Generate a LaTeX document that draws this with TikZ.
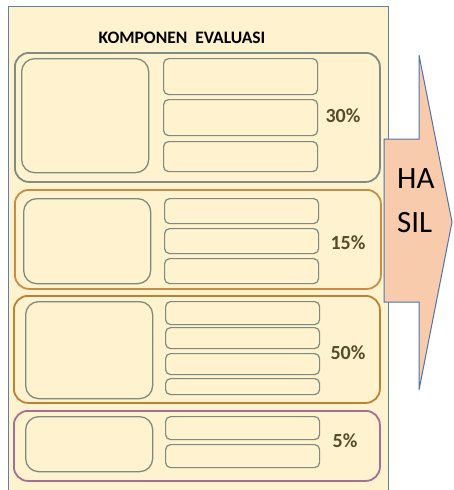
\documentclass[tikz,border=0pt]{standalone}
\usepackage{fontspec}
\setmainfont{Carlito}
\usetikzlibrary{positioning}

\definecolor{panelfill}{RGB}{255,242,206}
\definecolor{panelline}{RGB}{92,128,170}
\definecolor{grpgray}{RGB}{128,140,130}
\definecolor{grporange}{RGB}{200,140,70}
\definecolor{grpbrown}{RGB}{185,130,55}
\definecolor{grppurple}{RGB}{165,110,150}
\definecolor{itemgray}{RGB}{125,138,128}
\definecolor{pcttext}{RGB}{88,74,42}
\definecolor{arrowfill}{RGB}{248,203,173}
\definecolor{arrowline}{RGB}{80,115,170}

\begin{document}
\begin{tikzpicture}[x=1pt, y=-1pt,
    panel/.style={draw=panelline, fill=panelfill, line width=1pt, anchor=north west, inner sep=0pt},
    grpbox/.style={draw=#1, line width=1.8pt, rounded corners=14pt, anchor=north west, inner sep=0pt},
    leftbox/.style={draw=itemgray, line width=1.3pt, rounded corners=13pt, anchor=north west, inner sep=0pt, minimum width=127},
    itembox/.style={draw=itemgray, line width=1.2pt, rounded corners=5pt, anchor=north west, inner sep=0pt, minimum width=154},
    pct/.style={font=\bfseries\fontsize{20}{23}\selectfont, text=pcttext, inner sep=0pt},
  ]
  \useasboundingbox (0,0) rectangle (453,490);

  % background sheet
  \node[panel, minimum width=380, minimum height=500] (panel) at (8,6) {};
  \node[font=\bfseries\fontsize{17.5}{20}\selectfont, inner sep=0pt] (title) at (182,38) {KOMPONEN\ \ EVALUASI};

  % component 1
  \node[grpbox=grpgray, minimum width=365, minimum height=129] (g1) at (14,52) {};
  \node[leftbox, minimum height=114] (g1-l) at (21,58) {};
  \foreach \y/\h/\n in {58/36/1, 99/36/2, 141/30/3}
    \node[itembox, minimum height=\h] (g1-\n) at (163,\y) {};
  \node[pct] (g1-p) at (343,116) {30\%};

  % component 2
  \node[grpbox=grporange, minimum width=366, minimum height=99] (g2) at (14,189) {};
  \node[leftbox, minimum height=85] (g2-l) at (23,198) {};
  \foreach \y/\h/\n in {198/25/1, 228/25/2, 258/25/3}
    \node[itembox, minimum height=\h] (g2-\n) at (164,\y) {};
  \node[pct] (g2-p) at (348,243) {15\%};

  % component 3
  \node[grpbox=grpbrown, minimum width=366, minimum height=107] (g3) at (13,295) {};
  \node[leftbox, minimum height=97] (g3-l) at (25,301) {};
  \foreach \y/\h/\n in {301/23/1, 327/21/2, 353/21/3, 378/16/4}
    \node[itembox, minimum height=\h] (g3-\n) at (165,\y) {};
  \node[pct] (g3-p) at (348,353) {50\%};

  % component 4
  \node[grpbox=grppurple, minimum width=366, minimum height=70] (g4) at (13,410) {};
  \node[leftbox, minimum height=55] (g4-l) at (25,416) {};
  \foreach \y/\h/\n in {416/23/1, 444/23/2}
    \node[itembox, minimum height=\h] (g4-\n) at (165,\y) {};
  \node[pct] (g4-p) at (345,441) {5\%};

  % result arrow
  \draw[draw=arrowline, fill=arrowfill, line width=1pt, line join=miter]
    (384,139) -- (419,139) -- (419,55) -- (452,222) -- (419,390)
    -- (419,302) -- (384,302) -- cycle;
  \node[anchor=north west, inner sep=0pt, align=left, font=\fontsize{31}{44}\selectfont] (hasil) at (397,168) {HA\\SIL};
\end{tikzpicture}
\end{document}
